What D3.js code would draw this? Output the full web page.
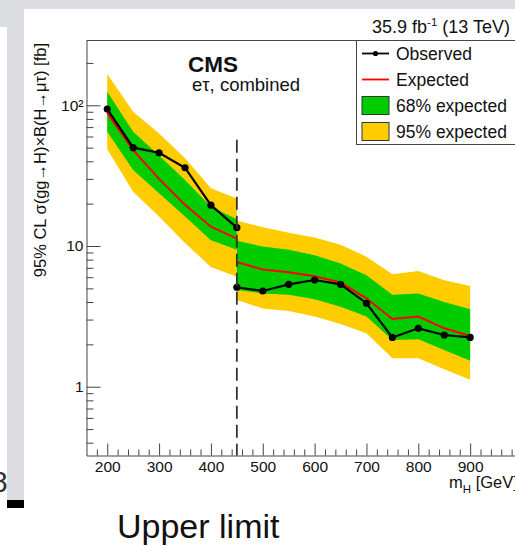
<!DOCTYPE html>
<html>
<head>
<meta charset="utf-8">
<script src="https://cdn.jsdelivr.net/npm/d3@7"></script>
<style>
  body { margin: 0; background: #fff; }
  svg { display: block; font-family: 'Liberation Sans', Arial, Helvetica, sans-serif; }
</style>
</head>
<body>
<script>
// low mass analysis (200-450 GeV)
const massLow = [200, 250, 300, 350, 400, 450]
const obsLow = [94, 50, 46, 36, 19.5, 13.5]
const expLow = [88, 48, 30, 19.6, 13.7, 11.3]
const up68Low = [125, 65, 44, 29.4, 19, 15.5]
const dn68Low = [65, 34.7, 23.7, 16.2, 11, 9.4]
const up95Low = [167, 90, 63, 42, 25.7, 21.8]
const dn95Low = [48.7, 24.3, 16.2, 10.5, 7.1, 6.05]

// high mass analysis (450-900 GeV)
const massHigh = [450, 500, 550, 600, 650, 700, 750, 800, 850, 900]
const obsHigh = [5.09, 4.79, 5.34, 5.73, 5.34, 3.92, 2.24, 2.6, 2.33, 2.24]
const expHigh = [7.7, 6.8, 6.5, 6.1, 5.5, 4.25, 3.03, 3.15, 2.6, 2.29]
const up68High = [10.9, 9.9, 9.4, 8.6, 7.5, 6.2, 4.5, 4.6, 4.0, 3.55]
const dn68High = [4.87, 4.6, 4.5, 4.18, 3.7, 3.15, 2.15, 2.17, 1.82, 1.53]
const up95High = [15.1, 13.6, 12.4, 11.5, 10.2, 8.4, 6.3, 6.65, 5.7, 5.2]
const dn95High = [4.13, 3.6, 3.45, 3.15, 2.79, 2.4, 1.59, 1.59, 1.33, 1.12]

// dashed boundary between the two analyses
const boundaryMass = 450
const boundaryTop = 57

const xMajor = [200, 300, 400, 500, 600, 700, 800, 900]
const xMinor = d3.range(180, 1001, 20).filter(v => v % 100 !== 0)
const yMajor = [1, 10, 100]
const yMinor = [0.4, 0.5, 0.6, 0.7, 0.8, 0.9, 2, 3, 4, 5, 6, 7, 8, 9, 20, 30, 40, 50, 60, 70, 80, 90, 200]

const legendLabels = ['Observed', 'Expected', '68% expected', '95% expected']

const rows = (ms, obs, exp, u68, d68, u95, d95) => ms.map((m, i) => ({
  m, obs: obs[i], exp: exp[i], u68: u68[i], d68: d68[i], u95: u95[i], d95: d95[i]
}))
const low = rows(massLow, obsLow, expLow, up68Low, dn68Low, up95Low, dn95Low)
const high = rows(massHigh, obsHigh, expHigh, up68High, dn68High, up95High, dn95High)

const svg = d3.select('body').append('svg').attr('width', 515).attr('height', 546)

// slide background bits
const grey = '#dcdde0'
svg.append('rect').attr('x', 0).attr('y', 0).attr('width', 515).attr('height', 9).attr('fill', grey)
svg.append('rect').attr('x', 0).attr('y', 9).attr('width', 24).attr('height', 18).attr('fill', grey)
svg.append('rect').attr('x', 7).attr('y', 27).attr('width', 17).attr('height', 474).attr('fill', grey)
svg.append('rect').attr('x', 7).attr('y', 500).attr('width', 17).attr('height', 8).attr('fill', '#000')
svg.append('text').attr('x', -9).attr('y', 492).attr('font-size', 30).attr('fill', '#333').text('8')

const x = d3.scaleLinear().domain([160, 1000]).range([86.5, 522])
const y = d3.scaleLog().domain([0.3244, 288.8]).range([455.5, 40.5])

const band = (hi, lo) => d3.area().x(d => x(d.m)).y0(d => y(d[lo])).y1(d => y(d[hi]))
const line = key => d3.line().x(d => x(d.m)).y(d => y(d[key]))

const plot = svg.append('g')
;[low, high].forEach(set => {
  plot.append('path').datum(set).attr('d', band('u95', 'd95')).attr('fill', '#ffcc00')
  plot.append('path').datum(set).attr('d', band('u68', 'd68')).attr('fill', '#00cc00')
})
;[low, high].forEach(set => {
  plot.append('path').datum(set).attr('d', line('exp')).attr('fill', 'none')
    .attr('stroke', '#ff0000').attr('stroke-width', 2)
})
;[low, high].forEach(set => {
  plot.append('path').datum(set).attr('d', line('obs')).attr('fill', 'none')
    .attr('stroke', '#000').attr('stroke-width', 2.2)
  plot.selectAll(null).data(set).enter().append('circle')
    .attr('cx', d => x(d.m)).attr('cy', d => y(d.obs)).attr('r', 3.6).attr('fill', '#000')
})

plot.append('line')
  .attr('x1', x(boundaryMass)).attr('x2', x(boundaryMass))
  .attr('y1', y(boundaryTop)).attr('y2', y.range()[0])
  .attr('stroke', '#333').attr('stroke-width', 1.8).attr('stroke-dasharray', '13,6')

// axes
const axisColor = '#444'
const xAxis = d3.axisBottom(x).tickValues(xMajor).tickSize(-12).tickSizeOuter(0).tickPadding(5).tickFormat(d3.format('d'))
const xAxisMinor = d3.axisBottom(x).tickValues(xMinor.concat([1000])).tickSize(-6).tickFormat('')
const yAxis = d3.axisLeft(y).tickValues(yMajor).tickSize(-14).tickSizeOuter(0).tickPadding(3)
  .tickFormat(d => d === 100 ? '10²' : d)
const yAxisMinor = d3.axisLeft(y).tickValues(yMinor).tickSize(-7).tickFormat('')

svg.append('g').attr('transform', `translate(0,${y.range()[0]})`).call(xAxis)
svg.append('g').attr('transform', `translate(0,${y.range()[0]})`).call(xAxisMinor).select('.domain').remove()
svg.append('g').attr('transform', `translate(${x.range()[0]},0)`).call(yAxis)
svg.append('g').attr('transform', `translate(${x.range()[0]},0)`).call(yAxisMinor).select('.domain').remove()

svg.selectAll('.tick line, .domain').attr('stroke', axisColor)
svg.selectAll('.tick text').attr('font-size', 15.5).attr('fill', '#111').attr('font-family', null)

svg.append('line').attr('x1', x.range()[0]).attr('x2', x.range()[1])
  .attr('y1', y.range()[1]).attr('y2', y.range()[1]).attr('stroke', axisColor)

// axis titles
svg.append('text').attr('transform', 'translate(46,43) rotate(-90)')
  .attr('text-anchor', 'end').attr('font-size', 16.5).attr('fill', '#111')
  .text('95% CL σ(gg→H)×B(H→μτ) [fb]')

const xTitle = svg.append('text').attr('x', 449).attr('y', 488).attr('font-size', 16.5).attr('fill', '#111')
xTitle.append('tspan').text('m')
xTitle.append('tspan').attr('dy', 5).attr('font-size', 11.5).text('H')
xTitle.append('tspan').attr('dy', -5).text(' [GeV]')

// labels
svg.append('text').attr('x', 188).attr('y', 71.5).attr('font-size', 22.5).attr('font-weight', 'bold')
  .attr('fill', '#111').text('CMS')
svg.append('text').attr('x', 192).attr('y', 91).attr('font-size', 18.5).attr('fill', '#111').text('eτ, combined')

const lumi = svg.append('text').attr('x', 372).attr('y', 33).attr('font-size', 18).attr('fill', '#111')
lumi.append('tspan').text('35.9 fb')
lumi.append('tspan').attr('dy', -7).attr('font-size', 11.5).text('-1')
lumi.append('tspan').attr('dy', 7).text(' (13 TeV)')

// legend
const legend = svg.append('g')
legend.append('rect').attr('x', 356.5).attr('y', 40.5).attr('width', 200).attr('height', 104)
  .attr('fill', '#fff').attr('stroke', axisColor)
const rowY = [53.5, 79.5, 105.5, 131.5]
legendLabels.forEach((label, i) => {
  const cy = rowY[i]
  if (i === 0) {
    legend.append('line').attr('x1', 362).attr('x2', 389).attr('y1', cy).attr('y2', cy)
      .attr('stroke', '#000').attr('stroke-width', 1.8)
    legend.append('circle').attr('cx', 375.5).attr('cy', cy).attr('r', 2.6).attr('fill', '#000')
  } else if (i === 1) {
    legend.append('line').attr('x1', 362).attr('x2', 389).attr('y1', cy).attr('y2', cy)
      .attr('stroke', '#ff0000').attr('stroke-width', 1.8)
  } else {
    legend.append('rect').attr('x', 362).attr('y', cy - 9).attr('width', 27).attr('height', 18)
      .attr('fill', i === 2 ? '#00cc00' : '#ffcc00').attr('stroke', '#333').attr('stroke-width', 1)
  }
  legend.append('text').attr('x', 396).attr('y', cy + 6).attr('font-size', 17.5).attr('fill', '#111').text(label)
})

// slide caption
svg.append('text').attr('x', 117).attr('y', 538).attr('font-size', 34).attr('fill', '#111').text('Upper limit')
</script>
</body>
</html>
